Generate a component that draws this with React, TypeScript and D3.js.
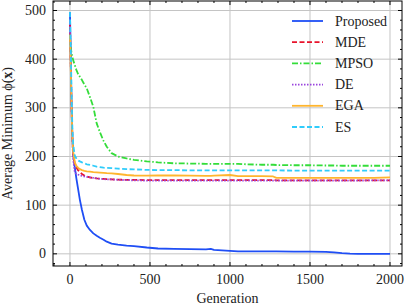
import React from 'react';
import * as d3 from 'd3';

const gens = [0, 5, 10, 15, 20, 30, 40, 50, 62, 75, 90, 105, 125, 146, 167, 187, 210, 230, 260, 300, 354, 400, 480, 550, 650, 750, 850, 880, 900, 1000, 1050, 1100, 1200, 1270, 1290, 1400, 1500, 1600, 1650, 1700, 1750, 1800, 1900, 2000];

const proposed = [497, 400, 300, 240, 205, 178, 155, 135, 111, 90, 70, 58, 49, 42, 37, 33, 29, 25, 21, 19, 17, 16, 13, 11, 10, 9.5, 9, 10, 8, 6, 5, 5, 5, 5, 5, 4.5, 4.5, 4, 3, 1.5, 0.5, 0, 0, 0];
const mde = [470, 390, 300, 240, 205, 185, 178, 172, 168, 164, 161, 159, 157, 156, 155, 154.5, 154, 153.5, 153, 152.5, 152, 152, 151.5, 151.5, 151.5, 151.5, 151.5, 151.5, 151.5, 151.5, 151.5, 151.5, 151.5, 151.5, 151, 151, 151, 151, 151, 151, 151, 151, 151, 151];
const mpso = [450, 425, 412, 405, 398, 388, 378, 370, 364, 357, 348, 340, 322, 302, 268, 250, 232, 220, 207, 200, 196, 193, 190, 188, 186, 185.5, 185, 185, 185, 185, 185, 184, 183, 183, 182.5, 182, 182, 181.5, 181.5, 181, 181, 181, 181, 181];
const de = [480, 390, 300, 235, 195, 168, 164, 163, 162, 160, 159, 158, 157, 156, 155, 154, 153.5, 153, 153, 152, 151.5, 151, 150.5, 150.5, 150.5, 150.5, 150.5, 150.5, 150.5, 150.5, 150.5, 150.5, 150.5, 150.5, 150.5, 150.5, 150.5, 150.5, 150.5, 150.5, 150.5, 150.5, 151, 151];
const ega = [450, 380, 300, 240, 210, 188, 181, 177, 174, 172, 170.5, 169.5, 169, 168, 167.5, 167, 166.5, 166, 165.5, 164, 162, 161, 160.5, 161, 161, 160.5, 160, 160, 160.5, 162, 159.5, 159.5, 159.5, 159, 156, 156, 156, 156, 156, 156, 156, 156, 156, 157];
const es = [497, 420, 330, 260, 225, 202, 196, 192, 190, 188, 186, 184, 183, 181, 179, 178, 177, 176.5, 176, 175, 174, 173.5, 172.5, 172, 172, 171.5, 171.5, 171.5, 171.5, 171.5, 171.5, 171.5, 171.5, 171.5, 171.5, 171, 171, 171, 171, 171, 171, 171, 171, 171];

const seriesNames = ['Proposed', 'MDE', 'MPSO', 'DE', 'EGA', 'ES'];
const seriesColors = ['#1f4ef5', '#e8132b', '#34dd3a', '#9a45dd', '#ffb52e', '#2fccfb'];
const seriesDash = ['none', '5,2.5', '6,2,1.5,2', '1.5,1.5', 'none', '5,2.5'];
const seriesValues = [proposed, mde, mpso, de, ega, es];

const xMajor = [0, 500, 1000, 1500, 2000];
const yMajor = [0, 100, 200, 300, 400, 500];

const W = 408;
const H = 304;
const left = 53;
const right = 402;
const top = 1;
const bottom = 266;
const tf = { fontFamily: '"Liberation Serif"' };

export default function App() {
  const x = d3.scaleLinear().domain([-106, 2075]).range([left, right]);
  const y = d3.scaleLinear().domain([-25, 519.5]).range([bottom, top]);

  const xMinor = d3.range(-100, 2076, 100).filter(v => v % 500 !== 0);
  const yMinor = d3.range(-20, 520, 20).filter(v => v % 100 !== 0);

  const line = d3.line<number>()
    .x((_, i) => x(gens[i]))
    .y(d => y(d));

  return (
    <svg width={W} height={H} style={{ position: 'absolute', left: 0, top: 0 }}>
      <rect x={0} y={0} width={W} height={H} fill="#fff" />
      {/* grid */}
      {xMajor.map(v => (
        <line key={'gx' + v} x1={x(v)} x2={x(v)} y1={top} y2={bottom} stroke="#c4c4c4" strokeWidth={1} />
      ))}
      {yMajor.map(v => (
        <line key={'gy' + v} x1={left} x2={right} y1={y(v)} y2={y(v)} stroke="#c4c4c4" strokeWidth={1} />
      ))}
      {/* series */}
      {seriesValues.map((vals, i) => (
        <path key={seriesNames[i]} d={line(vals) || ''} fill="none" stroke={seriesColors[i]}
          strokeWidth={1.8} strokeDasharray={seriesDash[i]} strokeLinejoin="round" />
      ))}
      {/* frame */}
      <rect x={left} y={top} width={right - left} height={bottom - top} fill="none" stroke="#000" strokeWidth={1} />
      {/* ticks */}
      {xMajor.map(v => (
        <g key={'tx' + v}>
          <line x1={x(v)} x2={x(v)} y1={bottom} y2={bottom - 4} stroke="#000" />
          <line x1={x(v)} x2={x(v)} y1={top} y2={top + 4} stroke="#000" />
          <text x={x(v)} y={283.5} fontSize={14} textAnchor="middle" fill="#222" style={tf}>{v}</text>
        </g>
      ))}
      {xMinor.map(v => (
        <g key={'mx' + v}>
          <line x1={x(v)} x2={x(v)} y1={bottom} y2={bottom - 2} stroke="#000" />
          <line x1={x(v)} x2={x(v)} y1={top} y2={top + 2} stroke="#000" />
        </g>
      ))}
      {yMajor.map(v => (
        <g key={'ty' + v}>
          <line x1={left} x2={left + 4} y1={y(v)} y2={y(v)} stroke="#000" />
          <line x1={right} x2={right - 4} y1={y(v)} y2={y(v)} stroke="#000" />
          <text x={46} y={y(v)} dy="0.33em" fontSize={14} textAnchor="end" fill="#222" style={tf}>{v}</text>
        </g>
      ))}
      {yMinor.map(v => (
        <g key={'my' + v}>
          <line x1={left} x2={left + 2} y1={y(v)} y2={y(v)} stroke="#000" />
          <line x1={right} x2={right - 2} y1={y(v)} y2={y(v)} stroke="#000" />
        </g>
      ))}
      {/* axis labels */}
      <text x={(left + right) / 2} y={303} fontSize={14} textAnchor="middle" fill="#222" style={tf}>Generation</text>
      <text transform={`translate(12,${(top + bottom) / 2}) rotate(-90)`} fontSize={14} textAnchor="middle" fill="#222" style={tf}>
        Average Minimum ϕ(<tspan fontWeight="bold">x</tspan>)
      </text>
      {/* legend */}
      {seriesNames.map((name, i) => {
        const ly = 21 + i * 21.2;
        return (
          <g key={'lg' + name}>
            <line x1={292} x2={323} y1={ly} y2={ly} stroke={seriesColors[i]} strokeWidth={1.8}
              strokeDasharray={seriesDash[i]} />
            <text x={335} y={ly} dy="0.33em" fontSize={14} fill="#222" style={tf}>{name}</text>
          </g>
        );
      })}
    </svg>
  );
}
